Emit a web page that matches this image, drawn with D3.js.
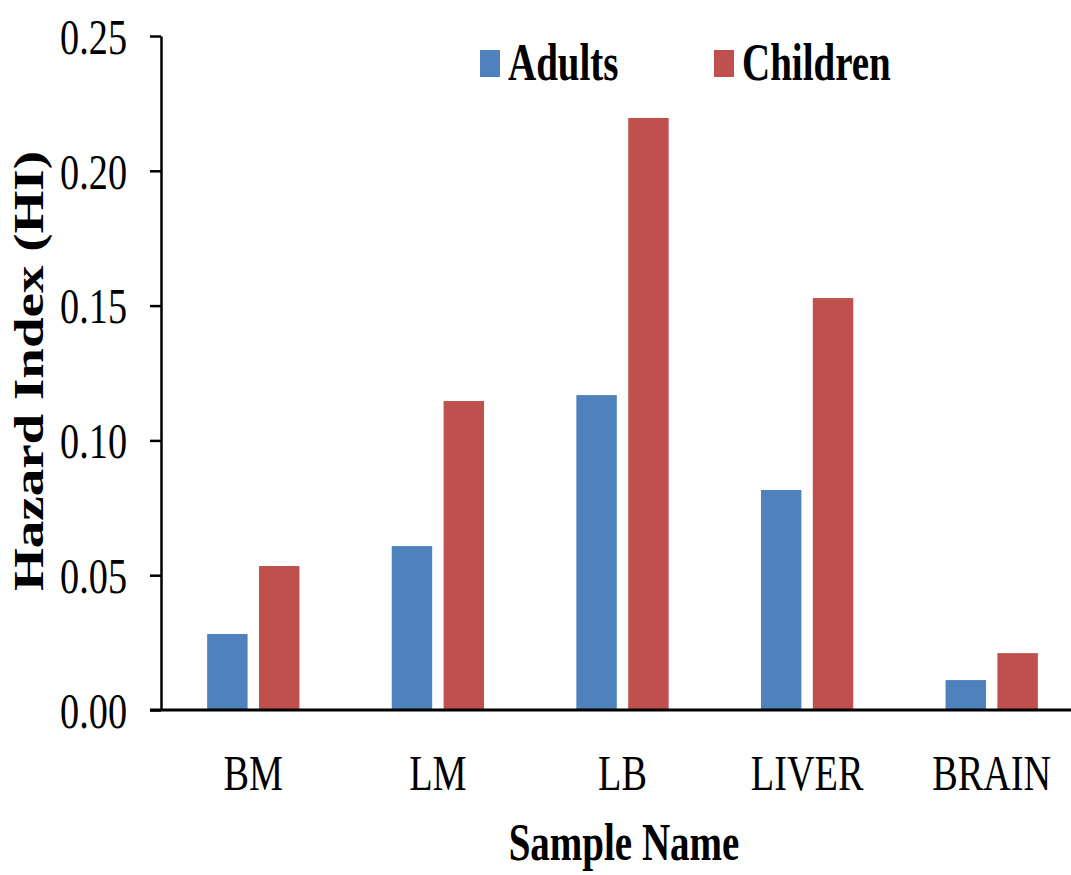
<!DOCTYPE html>
<html>
<head>
<meta charset="utf-8">
<script src="https://cdn.jsdelivr.net/npm/d3@7"></script>
<style>
  html, body { margin: 0; padding: 0; background: #fff; }
  svg { display: block; }
  text { font-family: "Liberation Serif", "Times New Roman", serif; fill: #000; }
</style>
</head>
<body>
<svg id="chart"></svg>
<script>
var categories = ['BM', 'LM', 'LB', 'LIVER', 'BRAIN'];
var series = ['Adults', 'Children'];
var adults = [0.0282, 0.0608, 0.1168, 0.0816, 0.0111];
var children = [0.0534, 0.1146, 0.2196, 0.1528, 0.0211];
var yTicks = [0, 0.05, 0.10, 0.15, 0.20, 0.25];
var colors = ['#4F81BD', '#C0504D'];

var W = 1071, H = 875;
var SQUEEZE = 0.75; // text in the picture is horizontally condensed
var MARGIN = { LEFT: 161, TOP: 36, BOTTOM: 165 };
var plotRight = 1084;

var svg = d3.select('#chart').attr('width', W).attr('height', H);

var x0 = d3.scaleBand()
    .domain(categories)
    .range([MARGIN.LEFT, plotRight])
    .paddingInner(0.5)
    .paddingOuter(0.25);

var x1 = d3.scaleBand()
    .domain(series)
    .range([0, x0.bandwidth()])
    .paddingInner(0.22);

var y = d3.scaleLinear()
    .domain([0, 0.25])
    .range([H - MARGIN.BOTTOM, MARGIN.TOP]);

var rows = categories.map(function (c, i) {
    return { cat: c, values: [adults[i], children[i]] };
});

// bars
var groups = svg.selectAll('g.cat').data(rows).enter()
    .append('g')
    .attr('class', 'cat')
    .attr('transform', function (d) { return 'translate(' + x0(d.cat) + ',0)'; });

groups.selectAll('rect')
    .data(function (d) {
        return d.values.map(function (v, j) { return { key: series[j], value: v, idx: j }; });
    })
    .enter()
    .append('rect')
    .attr('x', function (d) { return x1(d.key); })
    .attr('width', x1.bandwidth())
    .attr('y', function (d) { return y(d.value); })
    .attr('height', function (d) { return y(0) - y(d.value); })
    .attr('fill', function (d) { return colors[d.idx]; });

// y axis
var yAxis = svg.append('g')
    .attr('transform', 'translate(' + MARGIN.LEFT + ',0)')
    .call(d3.axisLeft(y).tickValues(yTicks).tickFormat(d3.format('.2f')).tickSize(11).tickSizeOuter(0));

yAxis.select('.domain').attr('stroke', '#000').attr('stroke-width', 2.5);
yAxis.selectAll('.tick line').attr('stroke', '#000').attr('stroke-width', 2.5);
yAxis.selectAll('.tick text')
    .attr('x', -34 / SQUEEZE)
    .attr('dy', '0.34em')
    .attr('transform', 'scale(' + SQUEEZE + ',1)')
    .style('font-size', '51px')
    .style('font-family', '"Liberation Serif", serif')
    .attr('fill', '#000');

// x axis
var xAxis = svg.append('g')
    .attr('transform', 'translate(0,' + y(0) + ')')
    .call(d3.axisBottom(x0).tickSize(0).tickSizeOuter(0));

xAxis.select('.domain')
    .attr('d', 'M150,0H' + W)
    .attr('stroke', '#000')
    .attr('stroke-width', 3);
xAxis.selectAll('.tick text')
    .attr('y', 80)
    .attr('dy', 0)
    .attr('transform', 'scale(' + SQUEEZE + ',1)')
    .style('font-size', '51px')
    .style('font-family', '"Liberation Serif", serif')
    .attr('fill', '#000');

// axis titles
svg.append('text')
    .attr('transform', 'translate(624,860) scale(' + SQUEEZE + ',1)')
    .attr('text-anchor', 'middle')
    .style('font-size', '52px')
    .style('font-weight', 'bold')
    .text('Sample Name');

svg.append('text')
    .attr('transform', 'translate(43,371) scale(' + SQUEEZE + ',1) rotate(-90)')
    .attr('text-anchor', 'middle')
    .style('font-size', '55px')
    .style('font-weight', 'bold')
    .text('Hazard Index (HI)');

// legend
var legendX = [480, 714];
var legend = svg.selectAll('g.legend').data(series).enter()
    .append('g')
    .attr('class', 'legend')
    .attr('transform', function (d, i) { return 'translate(' + legendX[i] + ',50)'; });

legend.append('rect')
    .attr('width', 20)
    .attr('height', 27)
    .attr('fill', function (d, i) { return colors[i]; });

legend.append('text')
    .attr('transform', 'translate(28,30) scale(' + SQUEEZE + ',1)')
    .style('font-size', '52px')
    .style('font-weight', 'bold')
    .text(function (d) { return d; });
</script>
</body>
</html>
